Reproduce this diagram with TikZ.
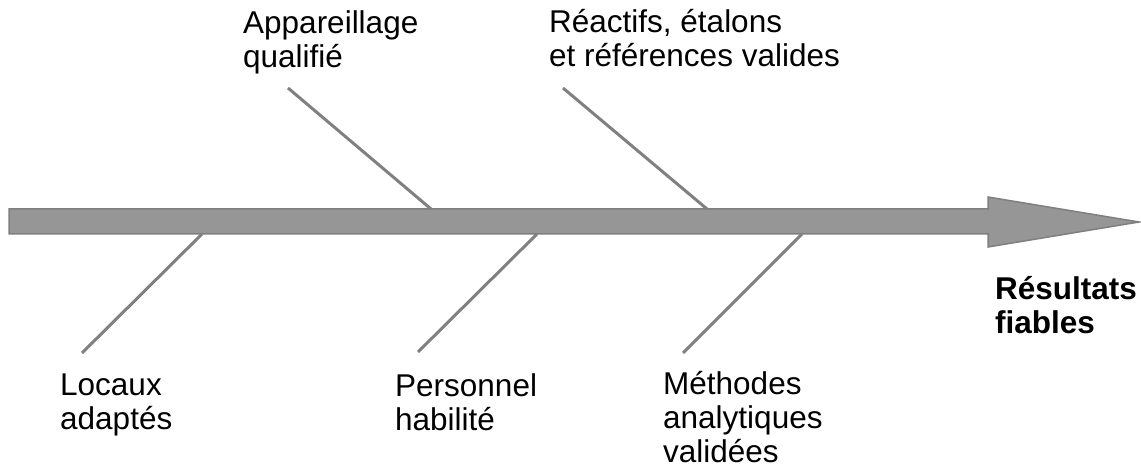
\documentclass[tikz,border=0pt]{standalone}
\usepackage{fontspec}
\setmainfont{Liberation Sans}
\definecolor{arrfill}{HTML}{969696}
\definecolor{arredge}{HTML}{7F7F7F}
\definecolor{bone}{HTML}{808080}
\tikzset{
  lbl/.style={anchor=base west, inner sep=0pt, align=left, font=\fontsize{31.5}{34}\selectfont},
  res/.style={lbl, font=\fontsize{31.5}{34}\selectfont\bfseries},
  bone/.style={draw=bone, line width=3pt},
  spine/.style={fill=arrfill, draw=arredge, line width=1.5pt, line join=miter}
}
\begin{document}
\begin{tikzpicture}[x=1pt,y=-1pt]
\useasboundingbox (0,0) rectangle (1141,473);
% spine arrow
\draw[spine] (9,209) -- (988,209) -- (988,197) -- (1139,222) -- (988,247) -- (988,234) -- (9,234) -- cycle;
% labels (anchored at the baseline of their last line)
\node[lbl] (app) at (243,68) {Appareillage\\qualifié};
\node[lbl] (rea) at (549,67) {Réactifs, étalons\\et références valides};
\node[lbl] (loc) at (60,429) {Locaux\\adaptés};
\node[lbl] (per) at (395,430) {Personnel\\habilité};
\node[lbl] (met) at (663,462) {Méthodes\\analytiques\\validées};
\node[res] (resu) at (995,333) {Résultats\\fiables};
% bone endpoints
\coordinate (appT) at (288,88);   \coordinate (appB) at (431,209);
\coordinate (reaT) at (563,88);   \coordinate (reaB) at (707,209);
\coordinate (locT) at (202,234);  \coordinate (locB) at (82,353);
\coordinate (perT) at (537,234);  \coordinate (perB) at (418,352);
\coordinate (metT) at (802,234);  \coordinate (metB) at (683,353);
\draw[bone] (appT) -- (appB);
\draw[bone] (reaT) -- (reaB);
\draw[bone] (locT) -- (locB);
\draw[bone] (perT) -- (perB);
\draw[bone] (metT) -- (metB);
\end{tikzpicture}
\end{document}
